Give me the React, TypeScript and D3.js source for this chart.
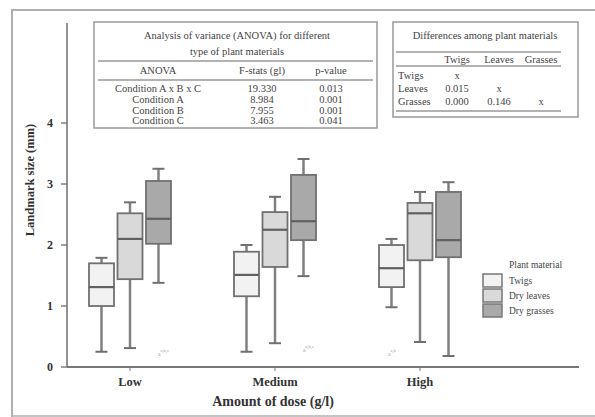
import * as d3 from 'd3';

const doses = ['Low', 'Medium', 'High'];
const materials = ['Twigs', 'Dry leaves', 'Dry grasses'];
// [min, q1, median, q3, max] per dose
const twigsStats = [[0.25, 1.0, 1.31, 1.7, 1.79], [0.25, 1.16, 1.51, 1.89, 2.0], [0.98, 1.31, 1.62, 2.0, 2.1]];
const leavesStats = [[0.31, 1.44, 2.1, 2.52, 2.7], [0.39, 1.64, 2.25, 2.54, 2.79], [0.41, 1.75, 2.52, 2.69, 2.87]];
const grassesStats = [[1.38, 2.02, 2.43, 3.05, 3.25], [1.49, 2.08, 2.39, 3.15, 3.41], [0.18, 1.8, 2.08, 2.87, 3.03]];
const yTicks = [0, 1, 2, 3, 4];
const groupNotes = ['a,b,c', 'a,b,c', 'a,b'];

const anovaRows = ['Condition A x B x C', 'Condition A', 'Condition B', 'Condition C'];
const anovaF = ['19.330', '8.984', '7.955', '3.463'];
const anovaP = ['0.013', '0.001', '0.001', '0.041'];
const diffRows = ['Twigs', 'Leaves', 'Grasses'];
const diffCols = ['Twigs', 'Leaves', 'Grasses'];
const diffVals = [['x', '', ''], ['0.015', 'x', ''], ['0.000', '0.146', 'x']];

const fills = ['#f2f2f2', '#d9d9d9', '#a9a9a9'];
const serif = '"Liberation Serif", "DejaVu Serif", serif';

export default function App() {
  const W = 595, H = 417;
  const y = d3.scaleLinear().domain([0, 5.64]).range([367, 23]);
  const x = d3.scalePoint().domain(doses).range([130, 420]);
  const inner = d3.scalePoint().domain(materials).range([-28.5, 28.5]);
  const bw = 25;
  const allStats = [twigsStats, leavesStats, grassesStats];

  return (
    <svg width={W} height={H} style={{ position: 'absolute', left: 0, top: 0, background: '#fff' }} fontFamily={serif}>
      {/* outer frame */}
      <path d={`M12,${H}V10H${W}`} fill="none" stroke="#b0b0b0" strokeWidth={2} />
      <line x1={12} x2={W} y1={416} y2={416} stroke="#b0b0b0" strokeWidth={1.5} />

      {/* axes */}
      <line x1={67} x2={67} y1={23} y2={367} stroke="#777" strokeWidth={1.6} />
      <line x1={67} x2={579} y1={367} y2={367} stroke="#777" strokeWidth={2} />
      {yTicks.map(t => (
        <g key={t}>
          <line x1={61} x2={67} y1={y(t)} y2={y(t)} stroke="#777" strokeWidth={1.4} />
          <text x={50} y={y(t)} dy="0.35em" textAnchor="middle" fontSize={12} fontWeight="bold" fill="#333">{t}</text>
        </g>
      ))}
      {doses.map(d => (
        <g key={d}>
          <line x1={x(d)} x2={x(d)} y1={367} y2={371} stroke="#777" />
          <text x={x(d)} y={386} textAnchor="middle" fontSize={12.5} fontWeight="bold" fill="#333">{d}</text>
        </g>
      ))}
      <text x={273} y={406} textAnchor="middle" fontSize={14} fontWeight="bold" fill="#333">Amount of dose (g/l)</text>
      <text transform="translate(34,180) rotate(-90)" textAnchor="middle" fontSize={12.5} fontWeight="bold" fill="#333">Landmark size (mm)</text>

      {/* boxes */}
      {doses.map((d, di) => (
        <g key={d}>
          {materials.map((m, mi) => {
            const [mn, q1, md, q3, mx] = allStats[mi][di];
            const cx = (x(d) as number) + (inner(m) as number);
            return (
              <g key={m}>
                <line x1={cx} x2={cx} y1={y(mx)} y2={y(q3)} stroke="#808080" strokeWidth={2.5} />
                <line x1={cx} x2={cx} y1={y(q1)} y2={y(mn)} stroke="#808080" strokeWidth={2.5} />
                <line x1={cx - 6} x2={cx + 6} y1={y(mx)} y2={y(mx)} stroke="#707070" strokeWidth={2} />
                <line x1={cx - 6} x2={cx + 6} y1={y(mn)} y2={y(mn)} stroke="#707070" strokeWidth={2} />
                <rect x={cx - bw / 2} y={y(q3)} width={bw} height={y(q1) - y(q3)} fill={fills[mi]} stroke="#707070" strokeWidth={1.8} />
                <line x1={cx - bw / 2} x2={cx + bw / 2} y1={y(md)} y2={y(md)} stroke="#606060" strokeWidth={2.2} />
              </g>
            );
          })}
          <text x={(x(d) as number) + (di === 2 ? -32 : 28)} y={di === 1 ? 352 : 356} fontSize={5.5} fill="#999">
            a<tspan dy={-4} fontSize={4.5}>{groupNotes[di]}</tspan>
          </text>
        </g>
      ))}

      {/* legend */}
      <text x={509} y={268} fontSize={9.5} fill="#444">Plant material</text>
      {materials.map((m, i) => (
        <g key={m}>
          <rect x={483} y={274 + i * 15} width={19} height={13} fill={fills[i]} stroke="#777" strokeWidth={1.5} />
          <text x={509} y={281 + i * 15} dy="0.35em" fontSize={9.5} fill="#444">{m}</text>
        </g>
      ))}

      {/* ANOVA table */}
      <g fill="#444" fontSize={10.5}>
        <rect x={94} y={22} width={283} height={106} fill="#fff" stroke="#999" strokeWidth={1.5} />
        <text x={237} y={39} textAnchor="middle">Analysis of variance (ANOVA) for different</text>
        <text x={237} y={55} textAnchor="middle">type of plant materials</text>
        <line x1={98} x2={373} y1={61} y2={61} stroke="#999" strokeWidth={1.5} />
        <text x={158} y={74} textAnchor="middle">ANOVA</text>
        <text x={262} y={74} textAnchor="middle">F-stats (gl)</text>
        <text x={331} y={74} textAnchor="middle">p-value</text>
        <line x1={98} x2={373} y1={80} y2={80} stroke="#999" strokeWidth={1.5} />
        {anovaRows.map((r, i) => (
          <g key={r}>
            <text x={158} y={92 + i * 10.8} textAnchor="middle">{r}</text>
            <text x={262} y={92 + i * 10.8} textAnchor="middle">{anovaF[i]}</text>
            <text x={331} y={92 + i * 10.8} textAnchor="middle">{anovaP[i]}</text>
          </g>
        ))}
      </g>

      {/* differences table */}
      <g fill="#444" fontSize={10.5}>
        <rect x={393} y={22} width={185} height={95} fill="#fff" stroke="#999" strokeWidth={1.5} />
        <text x={485} y={39} textAnchor="middle">Differences among plant materials</text>
        <line x1={396} x2={561} y1={52} y2={52} stroke="#999" strokeWidth={1.3} />
        {diffCols.map((c, j) => (
          <text key={c} x={457 + j * 42} y={63} textAnchor="middle">{c}</text>
        ))}
        <line x1={396} x2={561} y1={66} y2={66} stroke="#999" strokeWidth={1.3} />
        {diffRows.map((r, i) => (
          <g key={r}>
            <text x={398} y={79 + i * 13}>{r}</text>
            {diffVals[i].map((v, j) => (
              <text key={j} x={457 + j * 42} y={79 + i * 13} textAnchor="middle">{v}</text>
            ))}
          </g>
        ))}
        <line x1={396} x2={561} y1={111} y2={111} stroke="#999" strokeWidth={1.3} />
      </g>
    </svg>
  );
}
